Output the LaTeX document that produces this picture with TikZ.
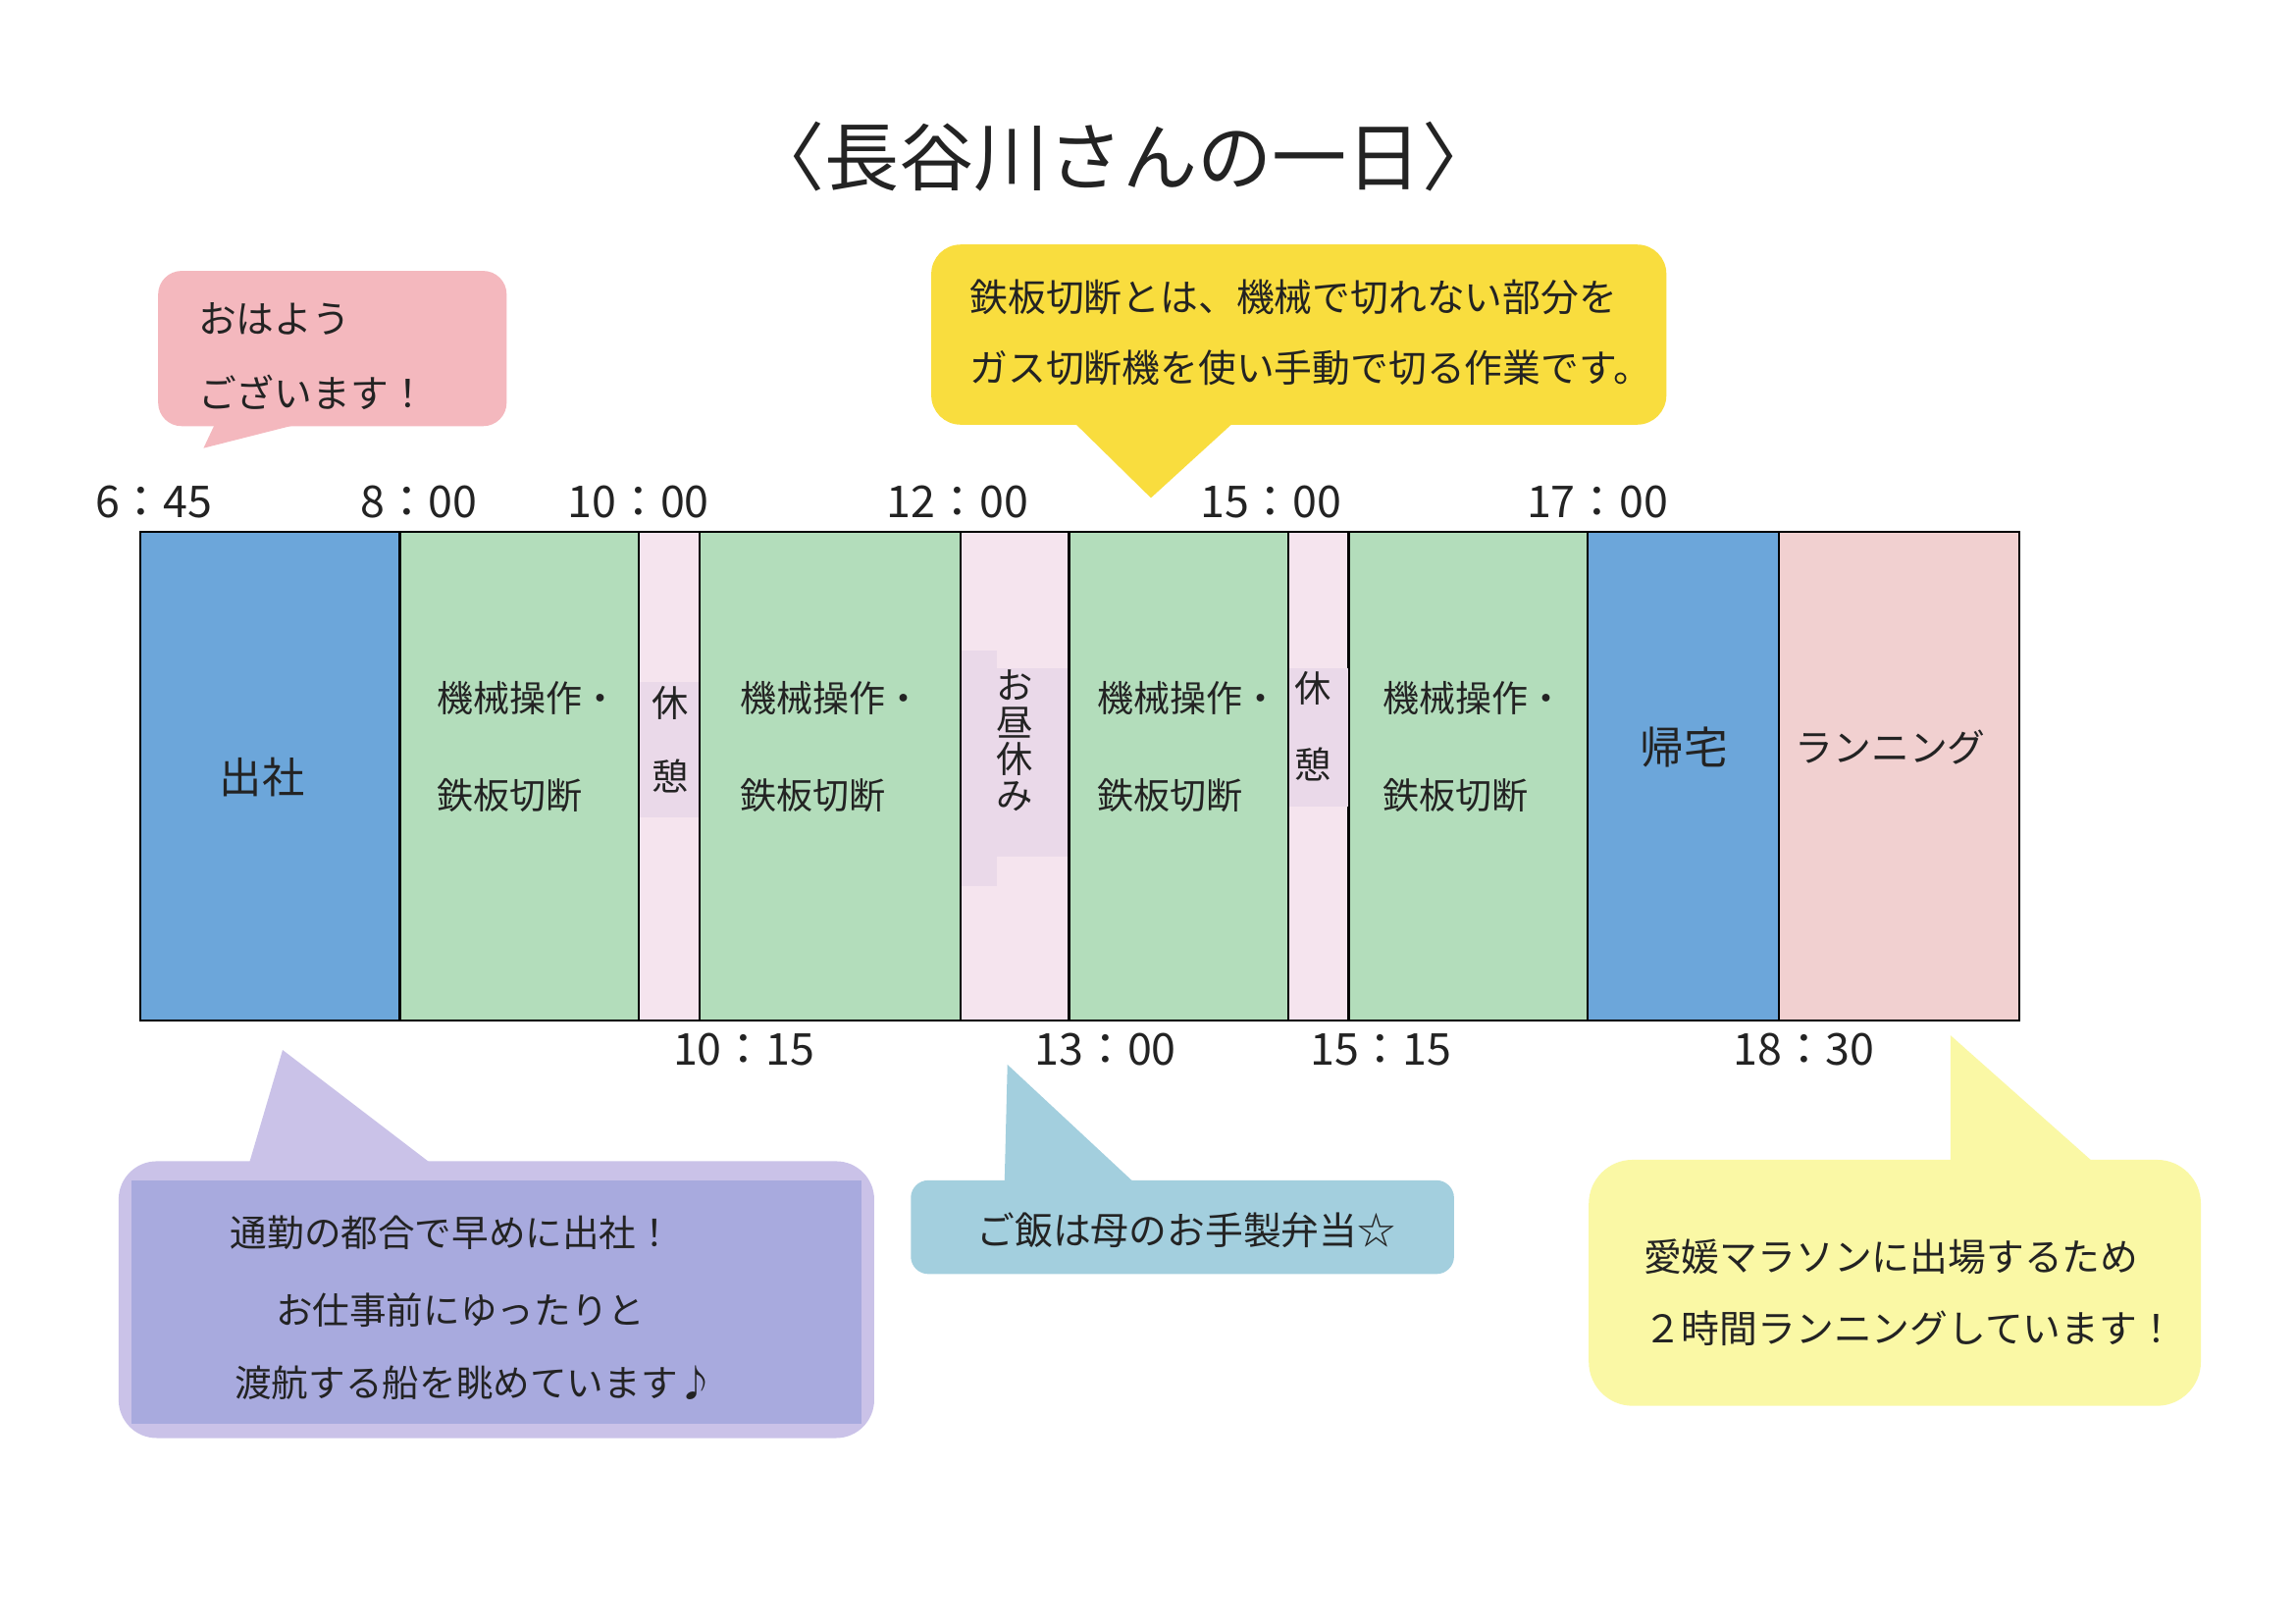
\documentclass[tikz,border=0pt]{standalone}
\usepackage{fontspec}
\setmainfont{Noto Sans CJK JP}
\definecolor{txt}{RGB}{35,35,35}
\definecolor{blueC}{RGB}{108,166,218}
\definecolor{greenC}{RGB}{179,221,187}
\definecolor{breakC}{RGB}{245,228,238}
\definecolor{breakT}{RGB}{234,217,233}
\definecolor{runC}{RGB}{241,208,208}
\definecolor{pinkCall}{RGB}{244,184,190}
\definecolor{yelTop}{RGB}{249,221,62}
\definecolor{purpOut}{RGB}{202,194,232}
\definecolor{purpIn}{RGB}{168,170,222}
\definecolor{blueCall}{RGB}{163,207,222}
\definecolor{yelBot}{RGB}{250,248,165}
\begin{document}
\begin{tikzpicture}[x=0.5pt,y=-0.5pt,
  every node/.style={text=txt, inner sep=0pt},
  cell/.style={draw=black, line width=0.75pt, minimum height=167pt},
  tlbl/.style={font=\fontsize{15}{18}\selectfont},
  ctext/.style={font=\fontsize{12.4}{15}\selectfont, anchor=west},
  btext/.style={font=\fontsize{13}{16}\selectfont},
  vtext/.style={font=\fontsize{12.5}{12.5}\selectfont},
]
\useasboundingbox (0,0) rectangle (1568,1108);
\fill[white] (0,0) rectangle (1568,1108);

% title
\node[font=\fontsize{25.5}{30}\selectfont] (title) at (767,107) {〈長谷川さんの一日〉};

% callout: good morning
\fill[pinkCall, rounded corners=8pt] (108,185) rectangle (346,291);
\fill[pinkCall] (147,289) -- (139,306) -- (206,289) -- cycle;
\node[btext, anchor=west] (p1) at (135,218) {おはよう};
\node[btext, anchor=west] (p2) at (135,268) {ございます！};

% callout: top yellow
\fill[yelTop, rounded corners=10pt] (636,167) rectangle (1138,290);
\fill[yelTop] (733,288) -- (786,340) -- (843,288) -- cycle;
\node[btext, anchor=west] (t1) at (662,203) {鉄板切断とは、機械で切れない部分を};
\node[btext, anchor=west] (t2) at (662,251) {ガス切断機を使い手動で切る作業です。};

% time labels top
\node[tlbl] (l645) at (105,343) {6：45};
\node[tlbl] (l800) at (286,343) {8：00};
\node[tlbl] (l1000) at (436,343) {10：00};
\node[tlbl] (l1200) at (654,343) {12：00};
\node[tlbl] (l1500) at (868,343) {15：00};
\node[tlbl] (l1700) at (1091,343) {17：00};

% timeline cells
\node[cell, fill=blueC,  minimum width=88.5pt] (c1) at (184.5,530) {};
\node[cell, fill=greenC, minimum width=81.5pt] (c2) at (354.5,530) {};
\node[cell, fill=breakC, minimum width=21pt]   (c3) at (457,530) {};
\node[cell, fill=greenC, minimum width=89pt]   (c4) at (567,530) {};
\node[cell, fill=breakC, minimum width=37pt]   (c5) at (693,530) {};
\node[cell, fill=greenC, minimum width=75pt]   (c6) at (805,530) {};
\node[cell, fill=breakC, minimum width=20.5pt] (c7) at (900.5,530) {};
\node[cell, fill=greenC, minimum width=81.5pt] (c8) at (1002.5,530) {};
\node[cell, fill=blueC,  minimum width=65.5pt] (c9) at (1149.5,530) {};
\node[cell, fill=runC,   minimum width=82pt]   (c10) at (1297,530) {};

% faint text boxes in break columns
\fill[breakT] (437,466) rectangle (477,558);
\fill[breakT] (657,444) rectangle (681,605);
\fill[breakT] (681,456) rectangle (729,585);
\fill[breakT] (880.5,456) rectangle (920.5,551);

% cell texts
\node[font=\fontsize{14.5}{17}\selectfont] (x1) at (179,531) {出社};
\node[ctext] (g1a) at (298,477) {機械操作・};
\node[ctext] (g1b) at (298,543) {鉄板切断};
\node[vtext] (k1a) at (458,480) {休};
\node[vtext] (k1b) at (458,530) {憩};
\node[ctext] (g2a) at (505,477) {機械操作・};
\node[ctext] (g2b) at (505,543) {鉄板切断};
\node[vtext, align=center] (lunch) at (693,506) {お\\昼\\休\\み};
\node[ctext] (g3a) at (749,477) {機械操作・};
\node[ctext] (g3b) at (749,543) {鉄板切断};
\node[vtext] (k2a) at (897,470) {休};
\node[vtext] (k2b) at (897,522) {憩};
\node[ctext] (g4a) at (944,477) {機械操作・};
\node[ctext] (g4b) at (944,543) {鉄板切断};
\node[font=\fontsize{15}{18}\selectfont] (home) at (1150,510) {帰宅};
\node[font=\fontsize{13}{16}\selectfont] (run) at (1291,510) {ランニング};

% time labels bottom
\node[tlbl] (l1015) at (508,717) {10：15};
\node[tlbl] (l1300) at (755,717) {13：00};
\node[tlbl] (l1515) at (943,717) {15：15};
\node[tlbl] (l1830) at (1232,717) {18：30};

% callout: purple
\fill[purpOut, rounded corners=13pt] (81,793) rectangle (597,982);
\fill[purpIn] (90,806) rectangle (588,972);
\fill[purpOut] (170,795) -- (193,717) -- (295,795) -- cycle;
\node[btext, font=\fontsize{12.6}{15}\selectfont, anchor=west] (m1) at (157,842) {通勤の都合で早めに出社！};
\node[btext, font=\fontsize{12.6}{15}\selectfont, anchor=west] (m2) at (188,895) {お仕事前にゆったりと};
\node[btext, font=\fontsize{12.6}{15}\selectfont, anchor=west] (m3) at (160,944) {渡航する船を眺めています♪};

% callout: blue
\fill[blueCall, rounded corners=6pt] (622,806) rectangle (993,870);
\fill[blueCall] (686,808) -- (688,727) -- (775,808) -- cycle;
\node[btext] (b1) at (810,840) {ご飯は母のお手製弁当☆};

% callout: light yellow
\fill[yelBot, rounded corners=15pt] (1085,792) rectangle (1503,960);
\fill[yelBot] (1332,794) -- (1332,707) -- (1430,794) -- cycle;
\node[btext, anchor=west] (y1) at (1122,858) {愛媛マラソンに出場するため};
\node[btext, anchor=west] (y2) at (1122,907) {２時間ランニングしています！};
\end{tikzpicture}
\end{document}
